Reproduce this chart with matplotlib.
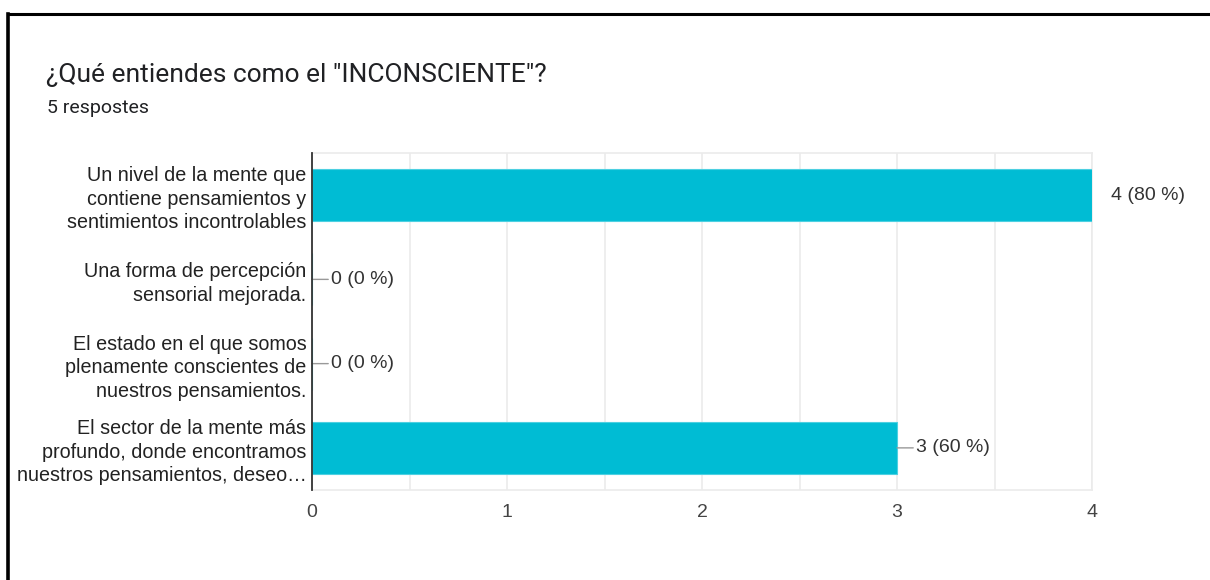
import matplotlib
matplotlib.use('Agg')
import matplotlib.pyplot as plt
from matplotlib.lines import Line2D

# datos
categorias = ['Un nivel de la mente que\ncontiene pensamientos y\nsentimientos incontrolables',
              'Una forma de percepción\nsensorial mejorada.',
              'El estado en el que somos\nplenamente conscientes de\nnuestros pensamientos.',
              'El sector de la mente más\nprofundo, donde encontramos\nnuestros pensamientos, deseo…']
respuestas = [4, 0, 0, 3]
total = 5
titulo = '¿Qué entiendes como el "INCONSCIENTE"?'
subtitulo = '5 respostes'

color_barra = '#00bcd4'
fuente = ['Liberation Sans', 'DejaVu Sans']

fig = plt.figure(figsize=(12.1, 5.8), dpi=100)
fig.patch.set_facecolor('white')

# marco negro (solo arriba e izquierda, como en la captura)
fig.add_artist(Line2D([8/1210, 1], [1 - 14/580, 1 - 14/580], color='black', lw=2.2, transform=fig.transFigure))
fig.add_artist(Line2D([8/1210, 8/1210], [0, 1 - 14/580], color='black', lw=2.6, transform=fig.transFigure))

fig.text(46/1210, 1 - 75/580, titulo, fontsize=19, family=['Roboto', 'DejaVu Sans'],
         color='#202124', va='center', ha='left')
fig.text(47/1210, 1 - 108/580, subtitulo, fontsize=14, family=['Roboto', 'DejaVu Sans'],
         color='#202124', va='center', ha='left')

ax = fig.add_axes([312/1210, 90/580, 780/1210, 337/580])
y = list(range(len(categorias)))
ax.barh(y, respuestas, height=0.62, color=color_barra, edgecolor='#4dd0e1', linewidth=0.8, zorder=3)
ax.set_xlim(0, 4)
ax.set_ylim(len(categorias) - 0.5, -0.5)

ax.set_xticks([0, 1, 2, 3, 4])
ax.set_xticks([0.5, 1.5, 2.5, 3.5], minor=True)
ax.grid(True, axis='x', which='both', color='#ebebeb', lw=1.2, zorder=0)
ax.tick_params(axis='x', which='both', length=0, pad=10, labelsize=14, labelcolor='#444444')
ax.tick_params(axis='y', length=0, pad=4)
ax.set_yticks(y)
ax.set_yticklabels(categorias, fontsize=14.2, color='#222222', linespacing=1.3)
for lab in ax.get_xticklabels() + ax.get_yticklabels():
    lab.set_family(fuente)

for s in ['top', 'bottom', 'right']:
    ax.spines[s].set_color('#ebebeb')
    ax.spines[s].set_linewidth(1.2)
ax.spines['left'].set_color('#333333')
ax.spines['left'].set_linewidth(1.3)
ax.spines['left'].set_zorder(5)

for i, v in enumerate(respuestas):
    txt = f'{v} ({round(100 * v / total)} %)'
    flecha = None if v >= 4 else dict(arrowstyle='-', color='#999999', lw=1, shrinkA=0, shrinkB=0)
    ax.annotate(txt, xy=(v, i), xytext=(19, 0), textcoords='offset pixels',
                ha='left', va='center', fontsize=14, color='#333333', family=fuente,
                arrowprops=flecha, annotation_clip=False)

fig.savefig('out.png', dpi=100, facecolor='white')
